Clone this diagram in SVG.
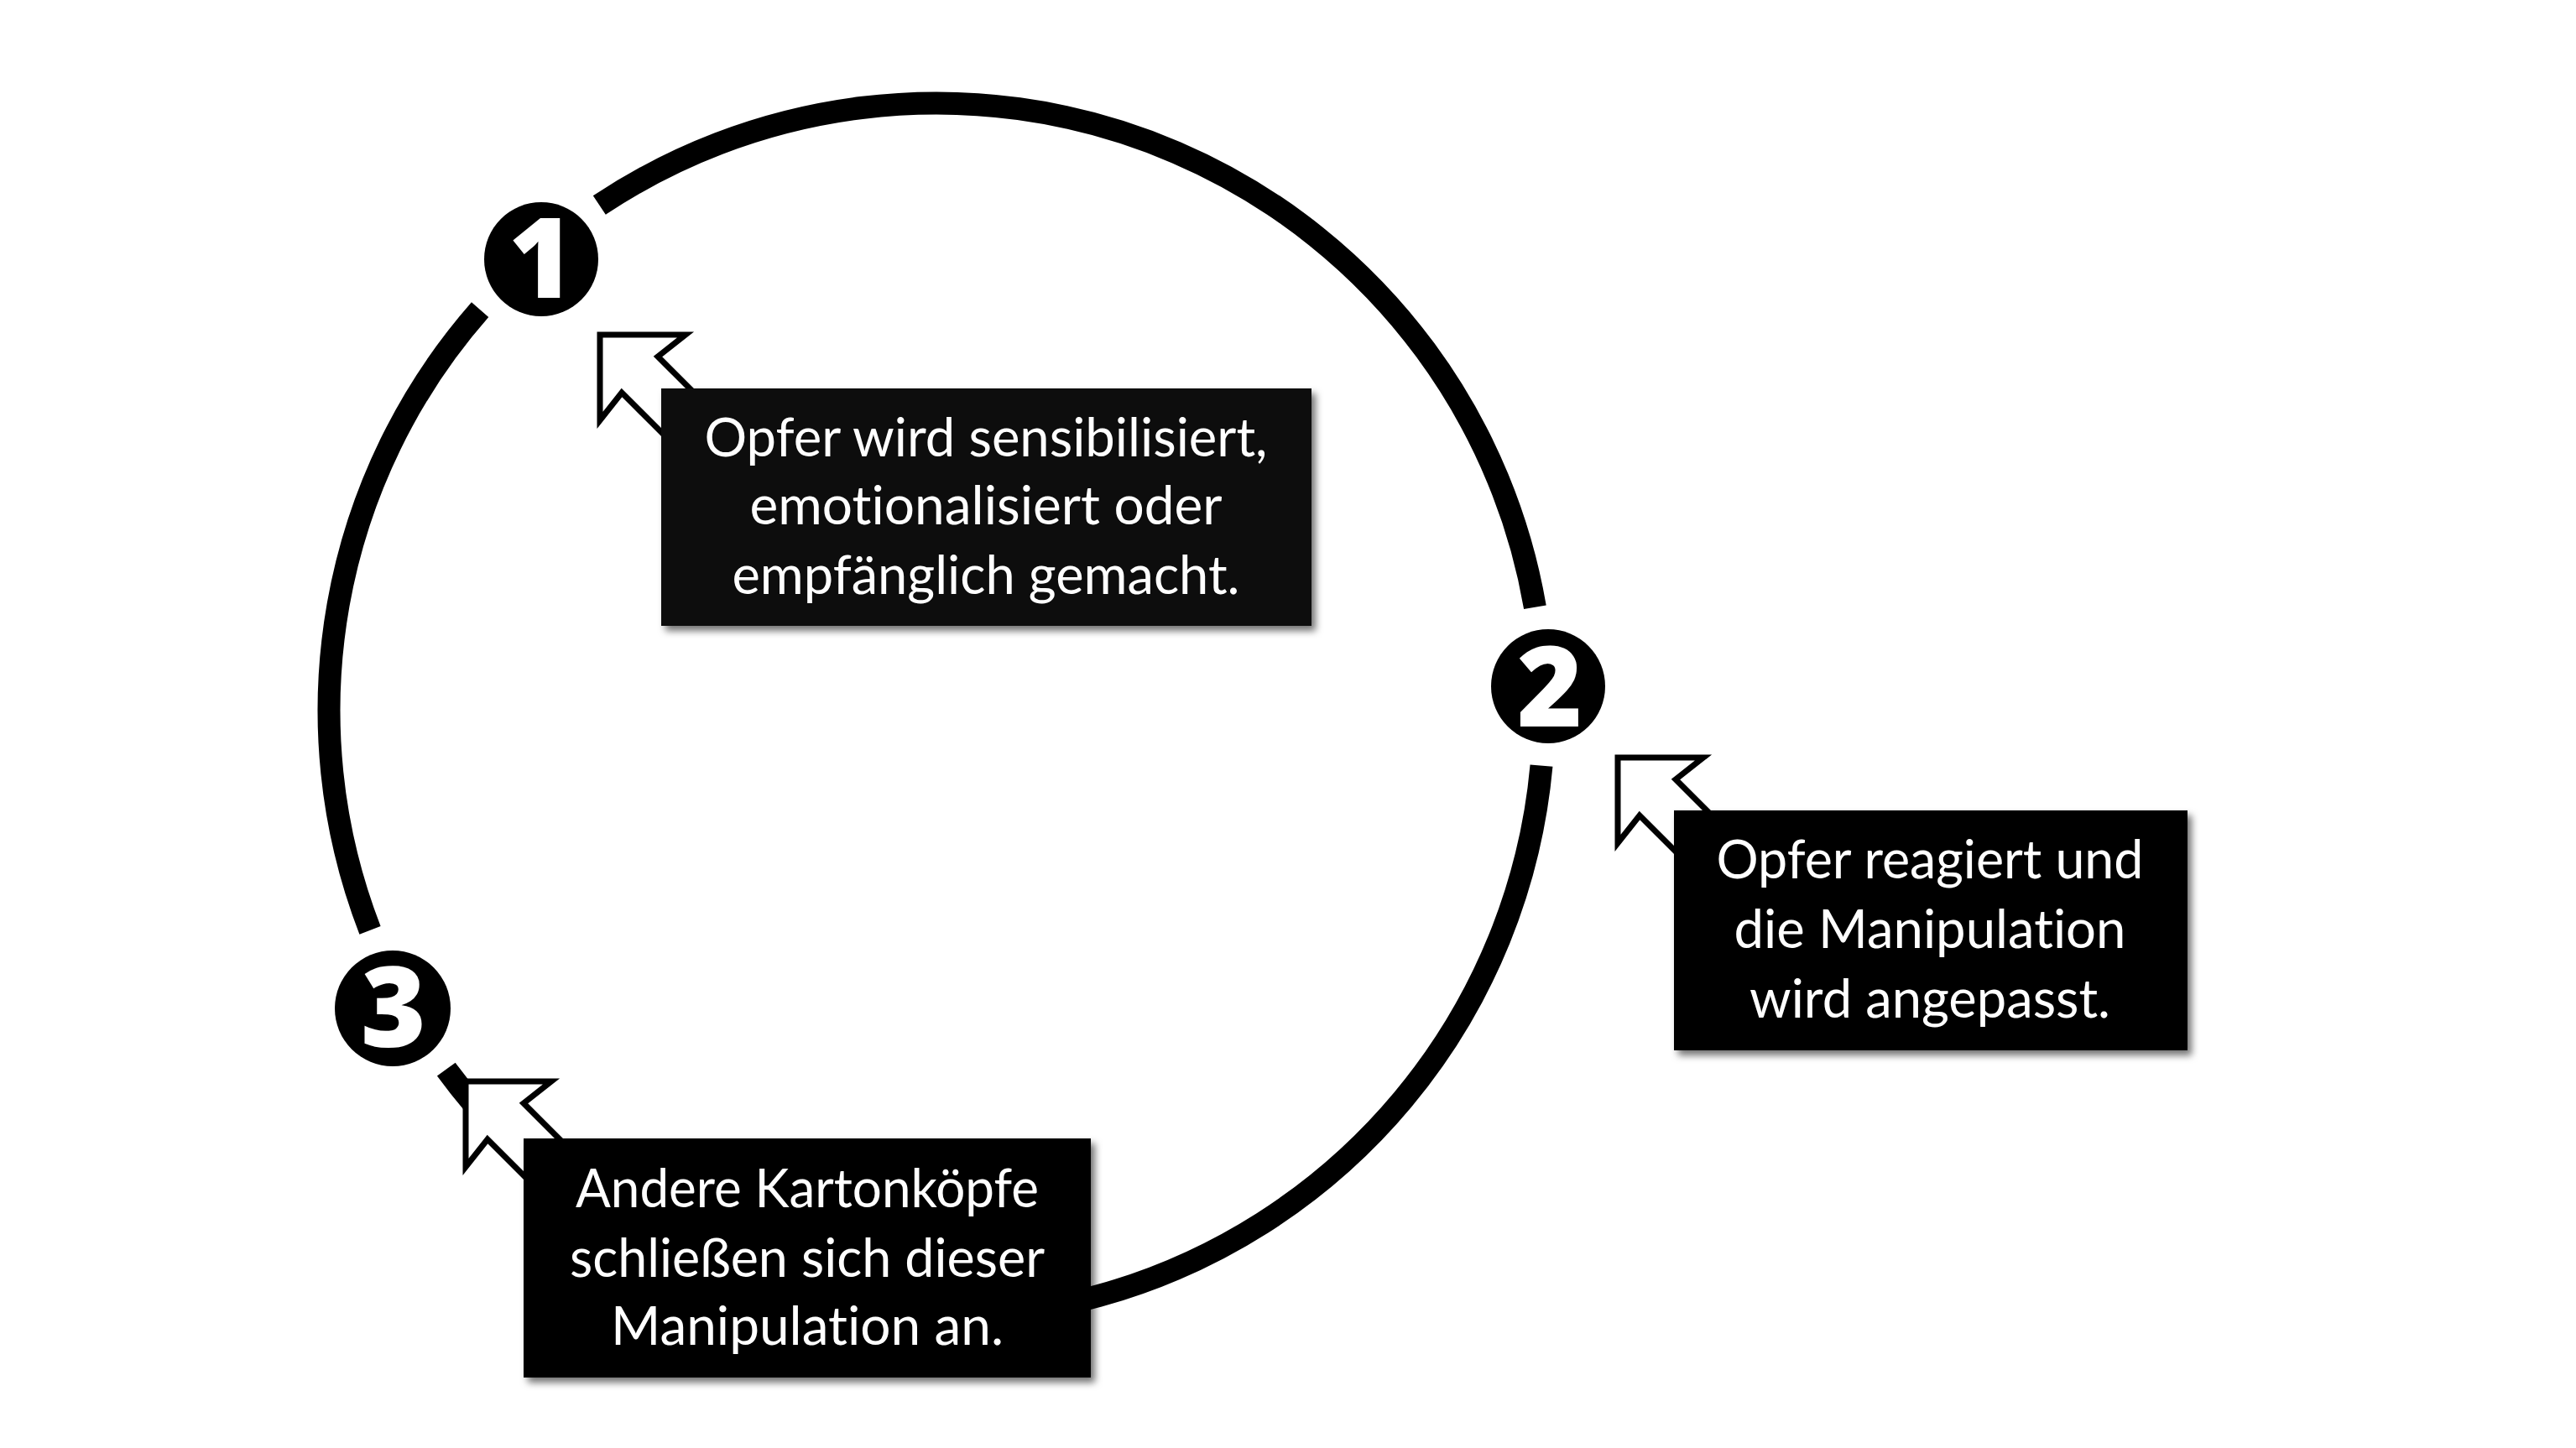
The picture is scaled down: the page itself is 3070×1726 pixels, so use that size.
<svg xmlns="http://www.w3.org/2000/svg" width="3070" height="1726" viewBox="0 0 3070 1726">
<defs>
<style>
.ring{fill:none;stroke:#000;stroke-width:27;stroke-linecap:butt}
.ptr{fill:#fff;stroke:#000;stroke-width:7;stroke-linejoin:miter;stroke-miterlimit:10}
.badge{fill:#000}
.num{fill:#fff;font-family:"Open Sans","Liberation Sans",sans-serif;font-weight:800;font-size:133px;text-anchor:middle}
.box{filter:url(#sh)}
.txt{fill:#fff;font-family:Lato,"Open Sans","Liberation Sans",sans-serif;font-size:63px;text-anchor:middle;font-variant-ligatures:none;font-feature-settings:"liga" 0,"clig" 0,"dlig" 0}
</style>
<filter id="sh" x="-10%" y="-10%" width="125%" height="130%">
<feDropShadow dx="5" dy="6" stdDeviation="4" flood-color="#000" flood-opacity="0.55"/>
</filter>
<path id="arrow" d="M0,0 L102,0 L69,26 L175,132 L132,175 L26,69 L0,102 Z"/>
</defs>
<rect width="3070" height="1726" fill="#fff"/>
<g id="connectors">
<path class="ring" d="M714.3,244.6 A724,724 0 0 1 1829.4,723.8"/>
<path class="ring" d="M1837.0,912.6 A724,724 0 0 1 531.8,1274.6"/>
<path class="ring" d="M441.0,1108.8 A724,724 0 0 1 572.1,369.2"/>
<use href="#arrow" class="ptr" x="715" y="399"/>
<use href="#arrow" class="ptr" x="1928" y="903"/>
<use href="#arrow" class="ptr" x="555" y="1289"/>
</g>
<g id="step1">
<circle class="badge" cx="645" cy="309" r="68"/>
<text class="num" x="645" y="355">1</text>
</g>
<g id="step2">
<circle class="badge" cx="1845" cy="818" r="68"/>
<text class="num" x="1847" y="866">2</text>
</g>
<g id="step3">
<circle class="badge" cx="468" cy="1202" r="69"/>
<text class="num" x="469" y="1248">3</text>
</g>
<g id="box1">
<rect class="box" x="788" y="463" width="775" height="283" fill="#0d0d0d"/>
<text class="txt" x="1175" y="544" textLength="671" lengthAdjust="spacingAndGlyphs">Opfer wird sensibilisiert,</text>
<text class="txt" x="1175" y="625" textLength="563" lengthAdjust="spacingAndGlyphs">emotionalisiert oder</text>
<text class="txt" x="1175" y="708" textLength="605" lengthAdjust="spacingAndGlyphs">empfänglich gemacht.</text>
</g>
<g id="box2">
<rect class="box" x="1995" y="966" width="612" height="286" fill="#000"/>
<text class="txt" x="2300" y="1047" textLength="509" lengthAdjust="spacingAndGlyphs">Opfer reagiert und</text>
<text class="txt" x="2300" y="1130" textLength="467" lengthAdjust="spacingAndGlyphs">die Manipulation</text>
<text class="txt" x="2300" y="1213" textLength="430" lengthAdjust="spacingAndGlyphs">wird angepasst.</text>
</g>
<g id="box3">
<rect class="box" x="624" y="1357" width="676" height="285" fill="#000"/>
<text class="txt" x="962" y="1439" textLength="552" lengthAdjust="spacingAndGlyphs">Andere Kartonköpfe</text>
<text class="txt" x="962" y="1522" textLength="566" lengthAdjust="spacingAndGlyphs">schließen sich dieser</text>
<text class="txt" x="962" y="1603" textLength="468" lengthAdjust="spacingAndGlyphs">Manipulation an.</text>
</g>
</svg>
